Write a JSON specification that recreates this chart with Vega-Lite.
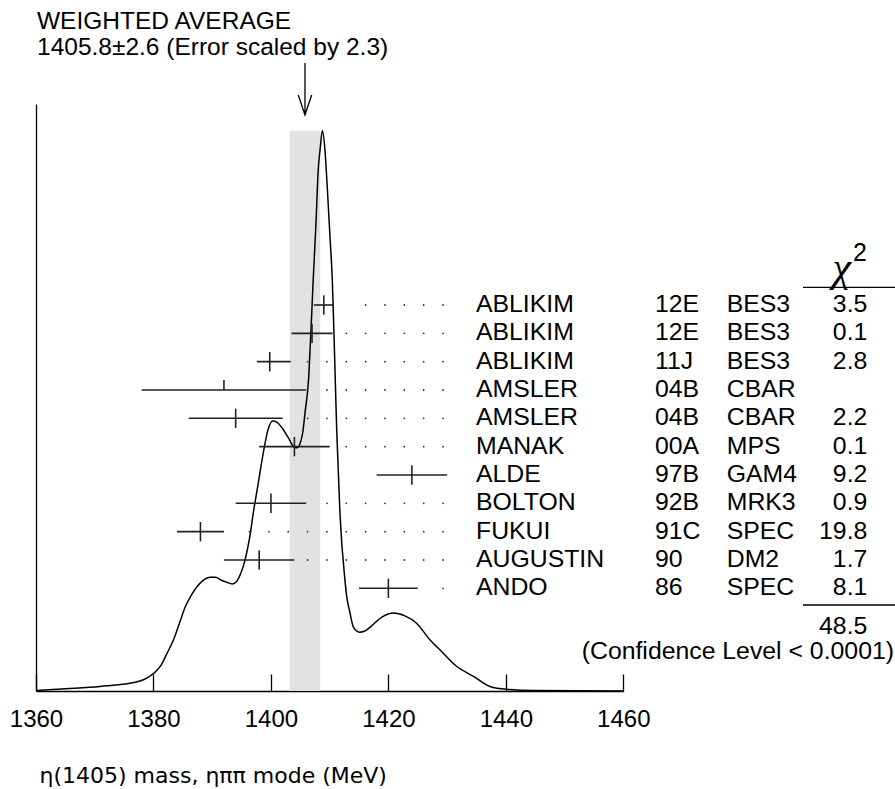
{
  "$schema": "https://vega.github.io/schema/vega-lite/v6.json",
  "width": 587.3,
  "height": 587,
  "autosize": {"type": "none"},
  "padding": {"left": 36, "top": 104, "right": 271.7, "bottom": 98},
  "background": "white",
  "config": {"view": {"stroke": null}, "font": "Liberation Sans"},
  "title": {
    "text": ["WEIGHTED AVERAGE", "1405.8±2.6 (Error scaled by 2.3)"],
    "anchor": "start",
    "frame": "group",
    "font": "Liberation Sans",
    "fontSize": 24.5,
    "fontWeight": "normal",
    "color": "black",
    "lineHeight": 26,
    "baseline": "bottom",
    "offset": -24,
    "dx": 1
  },
  "datasets": {
    "measurements": [
      {"row": 1, "name": "ABLIKIM", "ref": "12E", "exp": "BES3", "value": 1409.0, "lo": 1407.3, "hi": 1410.7, "chi2": 3.5},
      {"row": 2, "name": "ABLIKIM", "ref": "12E", "exp": "BES3", "value": 1407.0, "lo": 1403.5, "hi": 1410.5, "chi2": 0.1},
      {"row": 3, "name": "ABLIKIM", "ref": "11J", "exp": "BES3", "value": 1399.8, "lo": 1397.6, "hi": 1403.36, "chi2": 2.8},
      {"row": 4, "name": "AMSLER", "ref": "04B", "exp": "CBAR", "value": 1392.0, "lo": 1378.0, "hi": 1406.0, "chi2": null},
      {"row": 5, "name": "AMSLER", "ref": "04B", "exp": "CBAR", "value": 1394.0, "lo": 1386.0, "hi": 1402.0, "chi2": 2.2},
      {"row": 6, "name": "MANAK", "ref": "00A", "exp": "MPS", "value": 1404.0, "lo": 1398.0, "hi": 1410.0, "chi2": 0.1},
      {"row": 7, "name": "ALDE", "ref": "97B", "exp": "GAM4", "value": 1424.0, "lo": 1418.0, "hi": 1430.0, "chi2": 9.2},
      {"row": 8, "name": "BOLTON", "ref": "92B", "exp": "MRK3", "value": 1400.0, "lo": 1394.0, "hi": 1406.0, "chi2": 0.9},
      {"row": 9, "name": "FUKUI", "ref": "91C", "exp": "SPEC", "value": 1388.0, "lo": 1384.0, "hi": 1392.0, "chi2": 19.8},
      {"row": 10, "name": "AUGUSTIN", "ref": "90", "exp": "DM2", "value": 1398.0, "lo": 1392.0, "hi": 1404.0, "chi2": 1.7},
      {"row": 11, "name": "ANDO", "ref": "86", "exp": "SPEC", "value": 1420.0, "lo": 1415.0, "hi": 1425.0, "chi2": 8.1}
    ],
    "average": [
      {"mass": 1405.8, "error": 2.6, "lo": 1403.2, "hi": 1408.4, "scale_factor": 2.3, "chi2_total": 48.5}
    ],
    "ideogram": [
      {"mass": 1360.0, "density": 0.001},
      {"mass": 1365.0, "density": 0.004},
      {"mass": 1370.9, "density": 0.008},
      {"mass": 1376.6, "density": 0.015},
      {"mass": 1378.5, "density": 0.021},
      {"mass": 1380.1, "density": 0.032},
      {"mass": 1381.3, "density": 0.046},
      {"mass": 1382.3, "density": 0.067},
      {"mass": 1383.4, "density": 0.091},
      {"mass": 1384.5, "density": 0.123},
      {"mass": 1385.4, "density": 0.150},
      {"mass": 1386.4, "density": 0.170},
      {"mass": 1387.4, "density": 0.186},
      {"mass": 1388.5, "density": 0.198},
      {"mass": 1389.6, "density": 0.203},
      {"mass": 1390.6, "density": 0.203},
      {"mass": 1391.5, "density": 0.198},
      {"mass": 1392.5, "density": 0.194},
      {"mass": 1393.4, "density": 0.191},
      {"mass": 1394.2, "density": 0.196},
      {"mass": 1394.9, "density": 0.211},
      {"mass": 1395.5, "density": 0.230},
      {"mass": 1396.0, "density": 0.253},
      {"mass": 1396.4, "density": 0.275},
      {"mass": 1397.0, "density": 0.318},
      {"mass": 1397.8, "density": 0.368},
      {"mass": 1398.7, "density": 0.425},
      {"mass": 1399.5, "density": 0.466},
      {"mass": 1400.3, "density": 0.482},
      {"mass": 1401.0, "density": 0.480},
      {"mass": 1401.8, "density": 0.471},
      {"mass": 1402.9, "density": 0.453},
      {"mass": 1404.1, "density": 0.434},
      {"mass": 1404.6, "density": 0.435},
      {"mass": 1405.0, "density": 0.443},
      {"mass": 1405.4, "density": 0.460},
      {"mass": 1405.8, "density": 0.496},
      {"mass": 1406.4, "density": 0.555},
      {"mass": 1406.8, "density": 0.639},
      {"mass": 1407.2, "density": 0.734},
      {"mass": 1407.7, "density": 0.841},
      {"mass": 1408.0, "density": 0.921},
      {"mass": 1408.4, "density": 0.969},
      {"mass": 1408.75, "density": 1.0},
      {"mass": 1409.2, "density": 0.966},
      {"mass": 1409.55, "density": 0.907},
      {"mass": 1410.05, "density": 0.812},
      {"mass": 1410.45, "density": 0.734},
      {"mass": 1410.8, "density": 0.614},
      {"mass": 1411.2, "density": 0.466},
      {"mass": 1411.75, "density": 0.318},
      {"mass": 1412.6, "density": 0.198},
      {"mass": 1413.0, "density": 0.162},
      {"mass": 1413.35, "density": 0.145},
      {"mass": 1414.05, "density": 0.114},
      {"mass": 1415.1, "density": 0.105},
      {"mass": 1416.0, "density": 0.107},
      {"mass": 1416.9, "density": 0.114},
      {"mass": 1418.9, "density": 0.132},
      {"mass": 1420.9, "density": 0.139},
      {"mass": 1422.8, "density": 0.134},
      {"mass": 1424.8, "density": 0.121},
      {"mass": 1427.1, "density": 0.091},
      {"mass": 1429.1, "density": 0.070},
      {"mass": 1431.5, "density": 0.045},
      {"mass": 1434.5, "density": 0.026},
      {"mass": 1437.3, "density": 0.008},
      {"mass": 1440.1, "density": 0.003},
      {"mass": 1445.0, "density": 0.001},
      {"mass": 1460.0, "density": 0.0}
    ]
  },
  "layer": [
    {
      "data": {"name": "average"},
      "mark": {"type": "rect", "color": "#e2e2e2"},
      "encoding": {
        "x": {"field": "lo", "type": "quantitative", "scale": {"domain": [1360, 1460], "nice": false, "zero": false}},
        "x2": {"field": "hi"},
        "y": {"datum": 1.0, "type": "quantitative", "scale": {"domain": [0, 1.0476], "nice": false, "zero": false}, "axis": null}
      }
    },
    {
      "data": {"name": "ideogram"},
      "mark": {"type": "line", "interpolate": "monotone", "color": "black", "strokeWidth": 1.5},
      "encoding": {
        "x": {
          "field": "mass", "type": "quantitative",
          "scale": {"domain": [1360, 1460], "nice": false, "zero": false},
          "axis": {
            "values": [1360, 1380, 1400, 1420, 1440, 1460],
            "format": "d",
            "tickSize": -17, "tickColor": "black", "tickWidth": 1.3,
            "domainColor": "black", "domainWidth": 1.3,
            "labelFont": "Liberation Sans", "labelFontSize": 24, "labelColor": "black",
            "labelPadding": 33, "labelFlush": false, "labelOverlap": false, "grid": false,
            "title": "η(1405) mass, ηππ mode (MeV)",
            "titleFont": "DejaVu Sans", "titleFontSize": 22, "titleFontWeight": "normal", "titleColor": "black",
            "titleAlign": "left", "titleAnchor": "start", "titleX": 3, "titleY": 84, "titleBaseline": "middle"
          }
        },
        "y": {
          "field": "density", "type": "quantitative",
          "scale": {"domain": [0, 1.0476], "nice": false, "zero": false},
          "axis": {"title": null, "labels": false, "ticks": false, "grid": false, "domain": true, "domainColor": "black", "domainWidth": 1.3}
        }
      }
    },
    {
      "data": {"name": "average"},
      "mark": {"type": "point", "shape": "M0,-1L0,1M-0.258,0.231L0,1L0.258,0.231", "size": 2704, "filled": false, "color": "black", "strokeWidth": 1.3, "opacity": 1},
      "encoding": {
        "x": {"field": "mass", "type": "quantitative", "scale": {"domain": [1360, 1460], "nice": false, "zero": false}},
        "y": {"datum": 1.0744, "type": "quantitative", "scale": {"domain": [0, 1.0476], "nice": false, "zero": false}, "axis": null}
      }
    },
    {
      "data": {"name": "measurements"},
      "mark": {"type": "rule", "color": "#222222", "strokeWidth": 1.6},
      "encoding": {
        "x": {"field": "lo", "type": "quantitative", "scale": {"domain": [1360, 1460], "nice": false, "zero": false}},
        "x2": {"field": "hi"},
        "y": {"field": "row", "type": "quantitative", "scale": {"domain": [-6.094, 14.624], "reverse": true, "nice": false, "zero": false}, "axis": null}
      }
    },
    {
      "data": {"name": "measurements"},
      "transform": [{"filter": "isValid(datum.chi2)"}],
      "mark": {"type": "rule", "color": "#222222", "strokeWidth": 1.6, "yOffset": -9.7, "y2Offset": 9.7},
      "encoding": {
        "x": {"field": "value", "type": "quantitative", "scale": {"domain": [1360, 1460], "nice": false, "zero": false}},
        "y": {"field": "row", "type": "quantitative", "scale": {"domain": [-6.094, 14.624], "reverse": true, "nice": false, "zero": false}, "axis": null},
        "y2": {"field": "row"}
      }
    },
    {
      "data": {"name": "measurements"},
      "transform": [{"filter": "!isValid(datum.chi2)"}],
      "mark": {"type": "rule", "color": "#222222", "strokeWidth": 1.6, "yOffset": -10, "y2Offset": 0},
      "encoding": {
        "x": {"field": "value", "type": "quantitative", "scale": {"domain": [1360, 1460], "nice": false, "zero": false}},
        "y": {"field": "row", "type": "quantitative", "scale": {"domain": [-6.094, 14.624], "reverse": true, "nice": false, "zero": false}, "axis": null},
        "y2": {"field": "row"}
      }
    },
    {
      "data": {"name": "measurements"},
      "mark": {
        "type": "rule", "color": "#333333", "strokeWidth": 1.8, "strokeCap": "round",
        "strokeDash": [0.001, 19.349], "xOffset": 12.9,
        "strokeDashOffset": {"expr": "(19.35 - ((scale('x', 1432.6) - scale('x', datum.hi) - 12.9) % 19.35)) % 19.35"}
      },
      "encoding": {
        "x": {"field": "hi", "type": "quantitative", "scale": {"domain": [1360, 1460], "nice": false, "zero": false}},
        "x2": {"datum": 1432.6},
        "y": {"field": "row", "type": "quantitative", "scale": {"domain": [-6.094, 14.624], "reverse": true, "nice": false, "zero": false}, "axis": null}
      }
    },
    {
      "data": {"name": "measurements"},
      "mark": {"type": "text", "align": "left", "baseline": "middle", "font": "Liberation Sans", "fontSize": 24.8, "color": "black"},
      "encoding": {
        "x": {"datum": 1434.92, "type": "quantitative", "scale": {"domain": [1360, 1460], "nice": false, "zero": false}},
        "y": {"field": "row", "type": "quantitative", "scale": {"domain": [-6.094, 14.624], "reverse": true, "nice": false, "zero": false}, "axis": null},
        "text": {"field": "name"}
      }
    },
    {
      "data": {"name": "measurements"},
      "mark": {"type": "text", "align": "left", "baseline": "middle", "font": "Liberation Sans", "fontSize": 24.8, "color": "black"},
      "encoding": {
        "x": {"datum": 1465.4, "type": "quantitative", "scale": {"domain": [1360, 1460], "nice": false, "zero": false}},
        "y": {"field": "row", "type": "quantitative", "scale": {"domain": [-6.094, 14.624], "reverse": true, "nice": false, "zero": false}, "axis": null},
        "text": {"field": "ref"}
      }
    },
    {
      "data": {"name": "measurements"},
      "mark": {"type": "text", "align": "left", "baseline": "middle", "font": "Liberation Sans", "fontSize": 24.8, "color": "black"},
      "encoding": {
        "x": {"datum": 1477.61, "type": "quantitative", "scale": {"domain": [1360, 1460], "nice": false, "zero": false}},
        "y": {"field": "row", "type": "quantitative", "scale": {"domain": [-6.094, 14.624], "reverse": true, "nice": false, "zero": false}, "axis": null},
        "text": {"field": "exp"}
      }
    },
    {
      "data": {"name": "measurements"},
      "transform": [{"filter": "isValid(datum.chi2)"}],
      "mark": {"type": "text", "align": "right", "baseline": "middle", "font": "Liberation Sans", "fontSize": 24.8, "color": "black"},
      "encoding": {
        "x": {"datum": 1501.55, "type": "quantitative", "scale": {"domain": [1360, 1460], "nice": false, "zero": false}},
        "y": {"field": "row", "type": "quantitative", "scale": {"domain": [-6.094, 14.624], "reverse": true, "nice": false, "zero": false}, "axis": null},
        "text": {"field": "chi2", "type": "quantitative", "format": ".1f"}
      }
    },
    {
      "data": {"name": "average"},
      "mark": {"type": "text", "align": "center", "baseline": "middle", "font": "Liberation Serif", "fontStyle": "italic", "fontSize": 42, "color": "black"},
      "encoding": {
        "x": {"datum": 1497.19, "type": "quantitative", "scale": {"domain": [1360, 1460], "nice": false, "zero": false}},
        "y": {"datum": -0.3, "type": "quantitative", "scale": {"domain": [-6.094, 14.624], "reverse": true, "nice": false, "zero": false}, "axis": null},
        "text": {"value": "χ"}
      }
    },
    {
      "data": {"name": "average"},
      "mark": {"type": "text", "align": "center", "baseline": "middle", "font": "Liberation Sans", "fontSize": 25, "color": "black"},
      "encoding": {
        "x": {"datum": 1500.3, "type": "quantitative", "scale": {"domain": [1360, 1460], "nice": false, "zero": false}},
        "y": {"datum": -0.825, "type": "quantitative", "scale": {"domain": [-6.094, 14.624], "reverse": true, "nice": false, "zero": false}, "axis": null},
        "text": {"value": "2"}
      }
    },
    {
      "data": {"name": "average"},
      "mark": {"type": "point", "shape": "M-1,0L1,0", "size": 8464, "filled": false, "color": "black", "strokeWidth": 1.3, "opacity": 1},
      "encoding": {
        "x": {"datum": 1498.43, "type": "quantitative", "scale": {"domain": [1360, 1460], "nice": false, "zero": false}},
        "y": {"datum": 0.375, "type": "quantitative", "scale": {"domain": [-6.094, 14.624], "reverse": true, "nice": false, "zero": false}, "axis": null}
      }
    },
    {
      "data": {"name": "average"},
      "mark": {"type": "point", "shape": "M-1,0L1,0", "size": 8464, "filled": false, "color": "black", "strokeWidth": 1.3, "opacity": 1},
      "encoding": {
        "x": {"datum": 1498.43, "type": "quantitative", "scale": {"domain": [1360, 1460], "nice": false, "zero": false}},
        "y": {"datum": 11.588, "type": "quantitative", "scale": {"domain": [-6.094, 14.624], "reverse": true, "nice": false, "zero": false}, "axis": null}
      }
    },
    {
      "data": {"name": "average"},
      "mark": {"type": "text", "align": "right", "baseline": "middle", "font": "Liberation Sans", "fontSize": 24.8, "color": "black"},
      "encoding": {
        "x": {"datum": 1501.55, "type": "quantitative", "scale": {"domain": [1360, 1460], "nice": false, "zero": false}},
        "y": {"datum": 12.354, "type": "quantitative", "scale": {"domain": [-6.094, 14.624], "reverse": true, "nice": false, "zero": false}, "axis": null},
        "text": {"field": "chi2_total", "type": "quantitative", "format": ".1f"}
      }
    },
    {
      "data": {"name": "average"},
      "mark": {"type": "text", "align": "right", "baseline": "middle", "font": "Liberation Sans", "fontSize": 24.8, "color": "black"},
      "encoding": {
        "x": {"datum": 1506.09, "type": "quantitative", "scale": {"domain": [1360, 1460], "nice": false, "zero": false}},
        "y": {"datum": 13.236, "type": "quantitative", "scale": {"domain": [-6.094, 14.624], "reverse": true, "nice": false, "zero": false}, "axis": null},
        "text": {"value": "(Confidence Level < 0.0001)"}
      }
    }
  ],
  "resolve": {"scale": {"y": "independent"}}
}
